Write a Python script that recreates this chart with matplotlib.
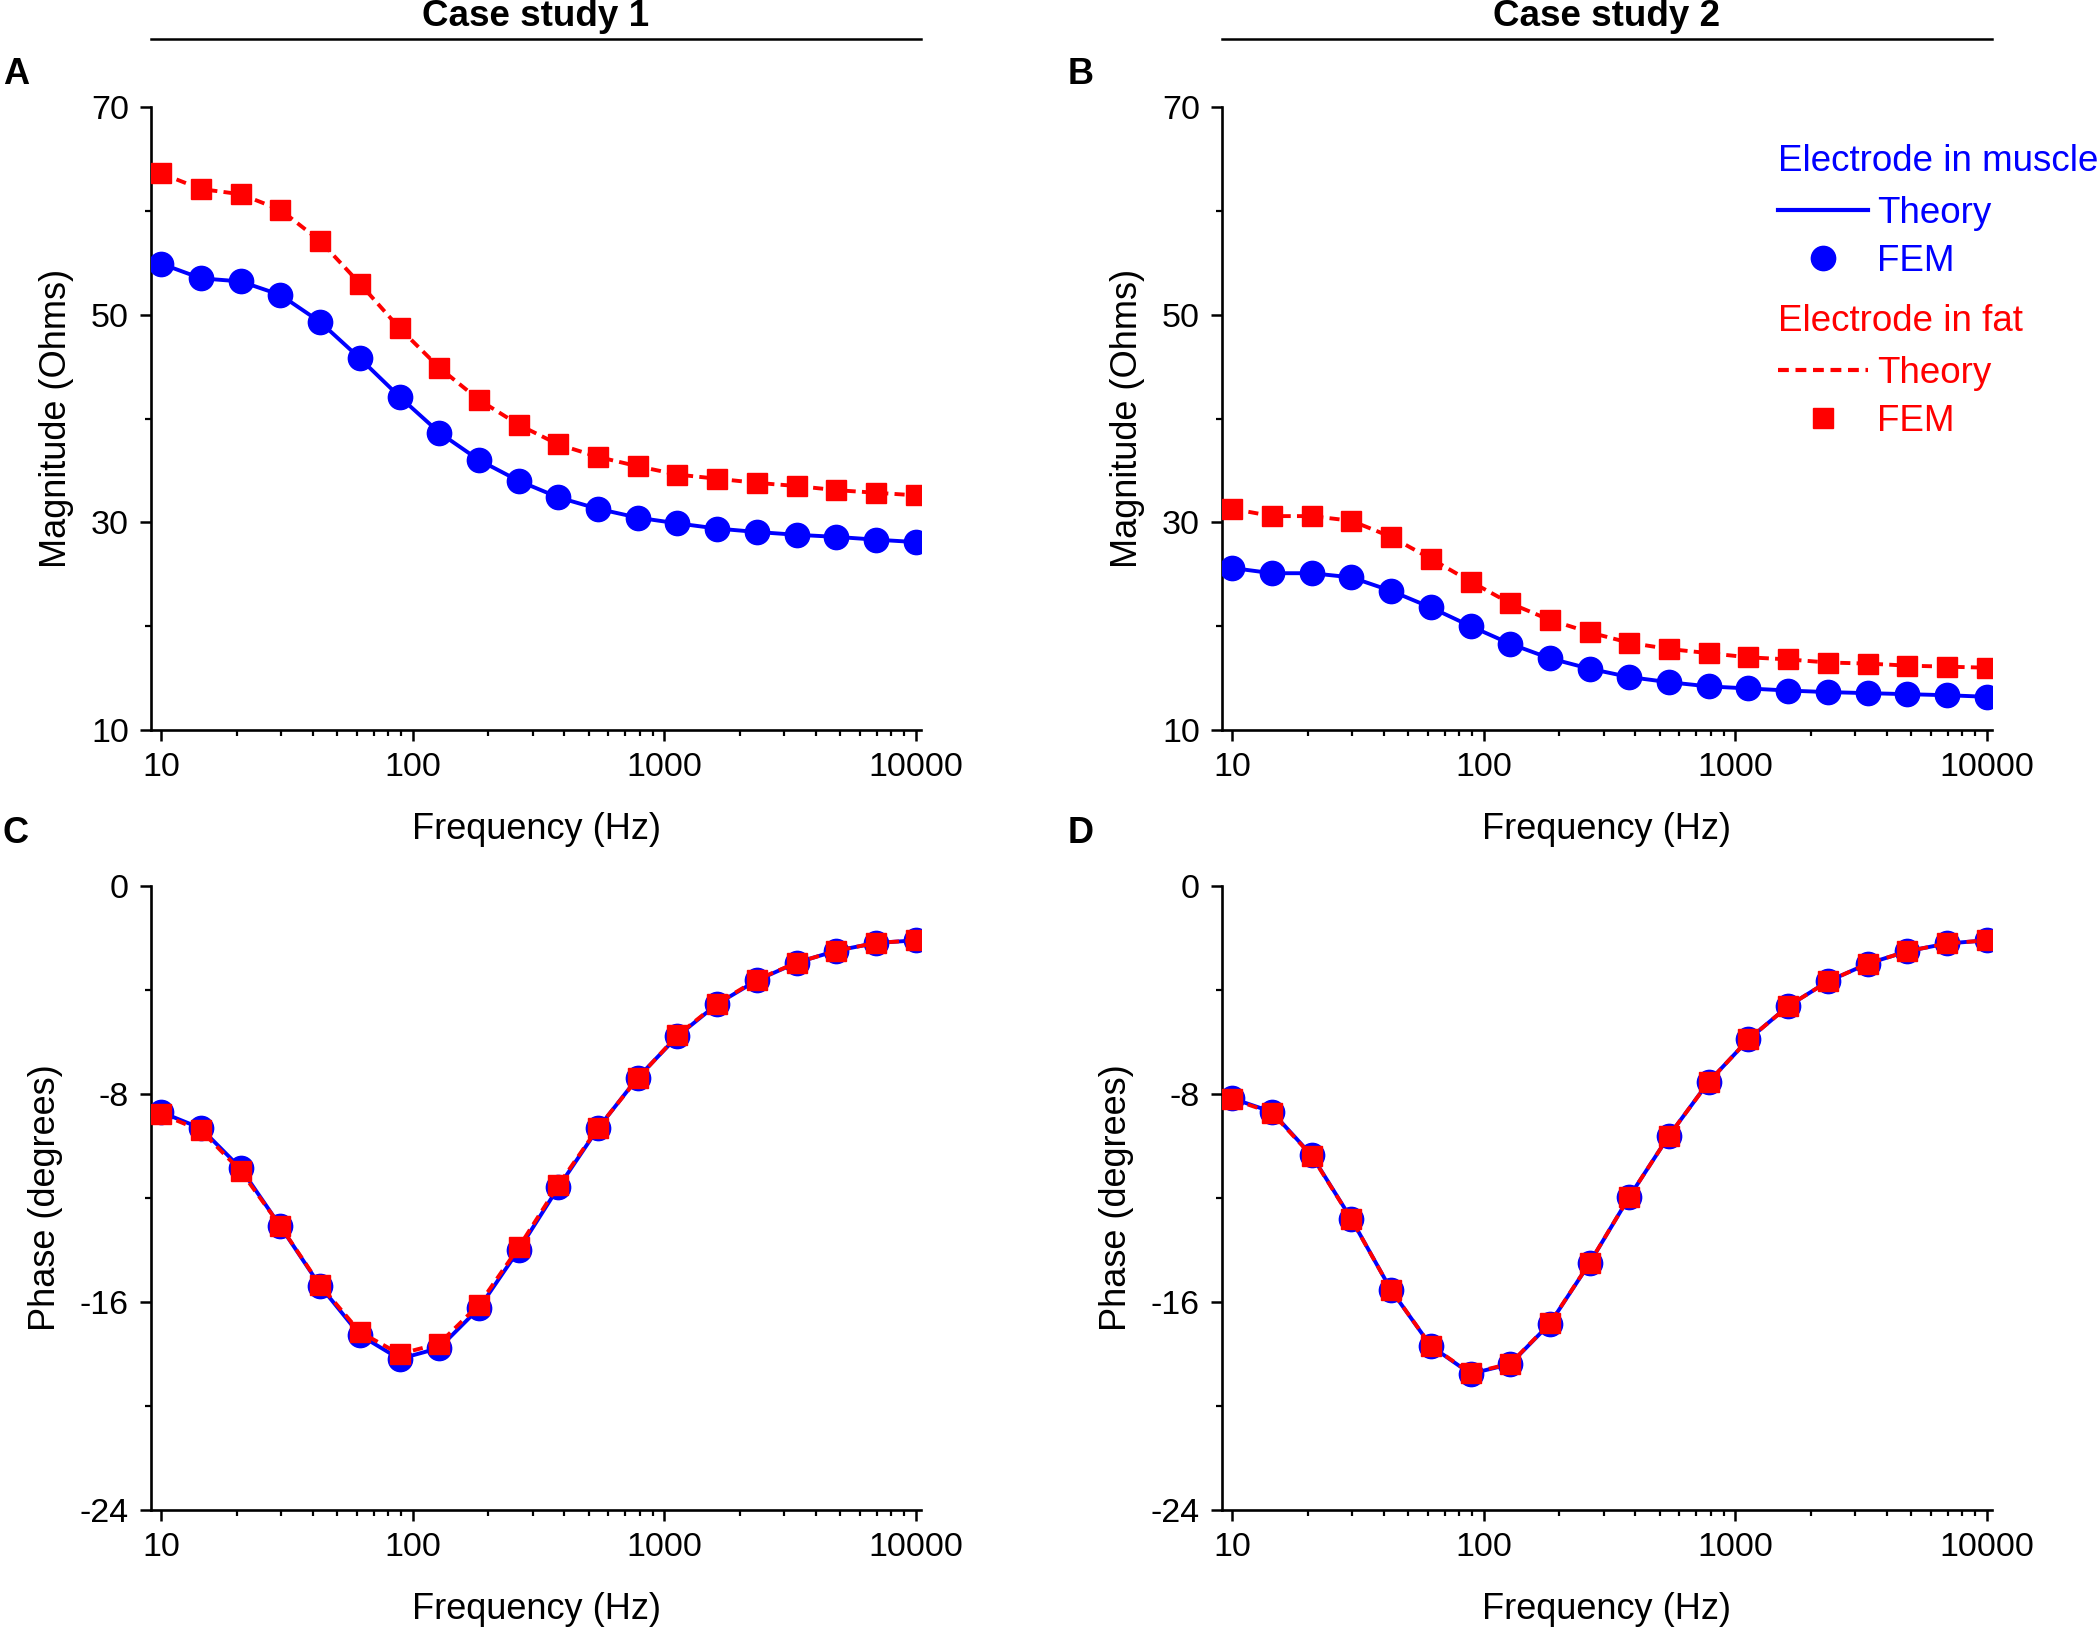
import matplotlib
matplotlib.use("Agg")
import matplotlib.pyplot as plt
from matplotlib.lines import Line2D
from matplotlib.ticker import FixedLocator, LogLocator, MultipleLocator, NullFormatter

plt.rcParams["font.family"] = ["Liberation Sans", "DejaVu Sans"]
plt.rcParams["axes.unicode_minus"] = False

# frequencies of the sweep (Hz)
freq = [10, 14.38, 20.69, 29.76, 42.81, 61.58, 88.59, 127.4, 183.3, 263.7,
        379.3, 545.6, 784.8, 1129, 1624, 2336, 3360, 4833, 6952, 10000]

# magnitude (Ohms)
mag1_muscle = [54.9, 53.5, 53.2, 51.9, 49.3, 45.8, 42.1, 38.65, 36.0, 34.0,
               32.4, 31.3, 30.45, 29.9, 29.4, 29.07, 28.8, 28.6, 28.33, 28.1]
mag1_fat = [63.6, 62.1, 61.6, 60.1, 57.1, 53.0, 48.7, 44.9, 41.8, 39.4,
            37.5, 36.3, 35.4, 34.6, 34.2, 33.8, 33.5, 33.1, 32.85, 32.6]
mag2_muscle = [25.6, 25.1, 25.1, 24.7, 23.4, 21.8, 20.0, 18.3, 16.9, 15.9,
               15.1, 14.6, 14.2, 14.0, 13.8, 13.65, 13.55, 13.45, 13.35, 13.2]
mag2_fat = [31.3, 30.6, 30.6, 30.15, 28.6, 26.5, 24.3, 22.2, 20.6, 19.4,
            18.4, 17.8, 17.4, 17.0, 16.8, 16.5, 16.4, 16.2, 16.1, 16.0]

# phase (degrees)
ph1_muscle = [-8.7, -9.32, -10.86, -13.09, -15.38, -17.27, -18.19, -17.77, -16.24, -14.0,
              -11.59, -9.32, -7.37, -5.78, -4.54, -3.63, -2.95, -2.49, -2.19, -2.09]
ph1_fat = [-8.78, -9.40, -10.96, -13.08, -15.35, -17.15, -18.0, -17.6, -16.1, -13.9,
           -11.5, -9.3, -7.4, -5.74, -4.52, -3.6, -2.95, -2.49, -2.19, -2.09]
ph2_muscle = [-8.17, -8.69, -10.36, -12.81, -15.54, -17.69, -18.76, -18.39, -16.83, -14.50,
              -11.95, -9.60, -7.53, -5.90, -4.62, -3.67, -2.99, -2.51, -2.21, -2.09]
ph2_fat = [-8.2, -8.72, -10.38, -12.82, -15.54, -17.68, -18.74, -18.37, -16.82, -14.49,
           -11.95, -9.60, -7.53, -5.90, -4.62, -3.67, -2.99, -2.51, -2.21, -2.09]

xticks = [10, 100, 1000, 10000]
xtick_labels = ["10", "100", "1000", "10000"]
mag_ticks = [10, 30, 50, 70]
phase_ticks = [-24, -16, -8, 0]
case_titles = ["Case study 1", "Case study 2"]
panel_letters = ["A", "B", "C", "D"]

BLUE = "#0000ff"
RED = "#ff0000"
DASH = (2.6, 1.6)
LW = 2.8

W, H = 2100, 1630
fig = plt.figure(figsize=(W / 100, H / 100), dpi=100)


def px_axes(left, top, right, bottom):
    return fig.add_axes([left / W, 1 - bottom / H, (right - left) / W, (bottom - top) / H])


def style_axes(ax, yticks, ylabel):
    ax.set_xscale("log")
    ax.set_xlim(9.1, 10500)
    ax.set_ylim(yticks[0], yticks[-1])
    ax.xaxis.set_major_locator(FixedLocator(xticks))
    ax.set_xticklabels(xtick_labels)
    ax.xaxis.set_minor_locator(LogLocator(base=10, subs=range(2, 10)))
    ax.xaxis.set_minor_formatter(NullFormatter())
    ax.yaxis.set_major_locator(FixedLocator(yticks))
    ax.yaxis.set_minor_locator(MultipleLocator((yticks[1] - yticks[0]) / 2))
    for s in ["top", "right"]:
        ax.spines[s].set_visible(False)
    for s in ["left", "bottom"]:
        ax.spines[s].set_linewidth(1.9)
    ax.tick_params(which="major", direction="out", length=8, width=1.8, labelsize=24.5, pad=8)
    ax.tick_params(which="minor", direction="out", length=4.5, width=1.6)
    ax.set_xlabel("Frequency (Hz)", fontsize=26, labelpad=21)
    ax.set_ylabel(ylabel, fontsize=26, labelpad=12)


def draw_pair(ax, muscle, fat):
    ax.plot(freq, muscle, color=BLUE, lw=LW, zorder=3)
    ax.plot(freq, muscle, ls="none", marker="o", ms=17.5, color=BLUE, zorder=4)
    ax.plot(freq, fat, color=RED, lw=LW, dashes=DASH, zorder=5)
    ax.plot(freq, fat, ls="none", marker="s", ms=15, color=RED, zorder=6)


cols = [(151, 921), (1222, 1992)]
rows = [(107, 730), (886, 1510)]

axes = []
for top, bot in rows:
    for lft, rgt in cols:
        axes.append(px_axes(lft, top, rgt, bot))

axA, axB, axC, axD = axes
draw_pair(axA, mag1_muscle, mag1_fat)
draw_pair(axB, mag2_muscle, mag2_fat)
draw_pair(axC, ph1_muscle, ph1_fat)
draw_pair(axD, ph2_muscle, ph2_fat)
for ax in (axA, axB):
    style_axes(ax, mag_ticks, "Magnitude (Ohms)")
for ax in (axC, axD):
    style_axes(ax, phase_ticks, "Phase (degrees)")

# case study headers with rule
for (lft, rgt), title in zip(cols, case_titles):
    fig.add_artist(Line2D([lft / W, rgt / W], [1 - 39 / H, 1 - 39 / H], color="black", lw=1.8))
    fig.text((lft + rgt) / 2 / W, 1 - 16 / H, title, ha="center", va="center",
             fontsize=26.5, fontweight="bold")

# panel letters
letter_pos = [(3, 74), (1068, 74), (3, 833), (1068, 833)]
for (x, y), letter in zip(letter_pos, panel_letters):
    fig.text(x / W, 1 - y / H, letter, ha="left", va="center", fontsize=26, fontweight="bold")

# legend in panel B
h_muscle = [Line2D([], [], color=BLUE, lw=3.0),
            Line2D([], [], ls="none", marker="o", ms=17.5, color=BLUE)]
h_fat = [Line2D([], [], color=RED, lw=3.0, dashes=DASH),
         Line2D([], [], ls="none", marker="s", ms=15, color=RED)]
leg_kw = dict(frameon=False, fontsize=26.5, handlelength=2.45, handletextpad=0.25,
              labelspacing=0.34, borderpad=0, borderaxespad=0, alignment="left",
              loc="upper left", title_fontsize=26.5)
leg1 = axB.legend(h_muscle, ["Theory", "FEM"], title="Electrode in muscle",
                  bbox_to_anchor=(0.722, 0.94), labelcolor=BLUE, **leg_kw)
leg1.get_title().set_color(BLUE)
leg1._legend_box.sep = 12
axB.add_artist(leg1)
leg2 = axB.legend(h_fat, ["Theory", "FEM"], title="Electrode in fat",
                  bbox_to_anchor=(0.722, 0.683), labelcolor=RED, **leg_kw)
leg2.get_title().set_color(RED)
leg2._legend_box.sep = 12

fig.savefig("out.png", dpi=100)
